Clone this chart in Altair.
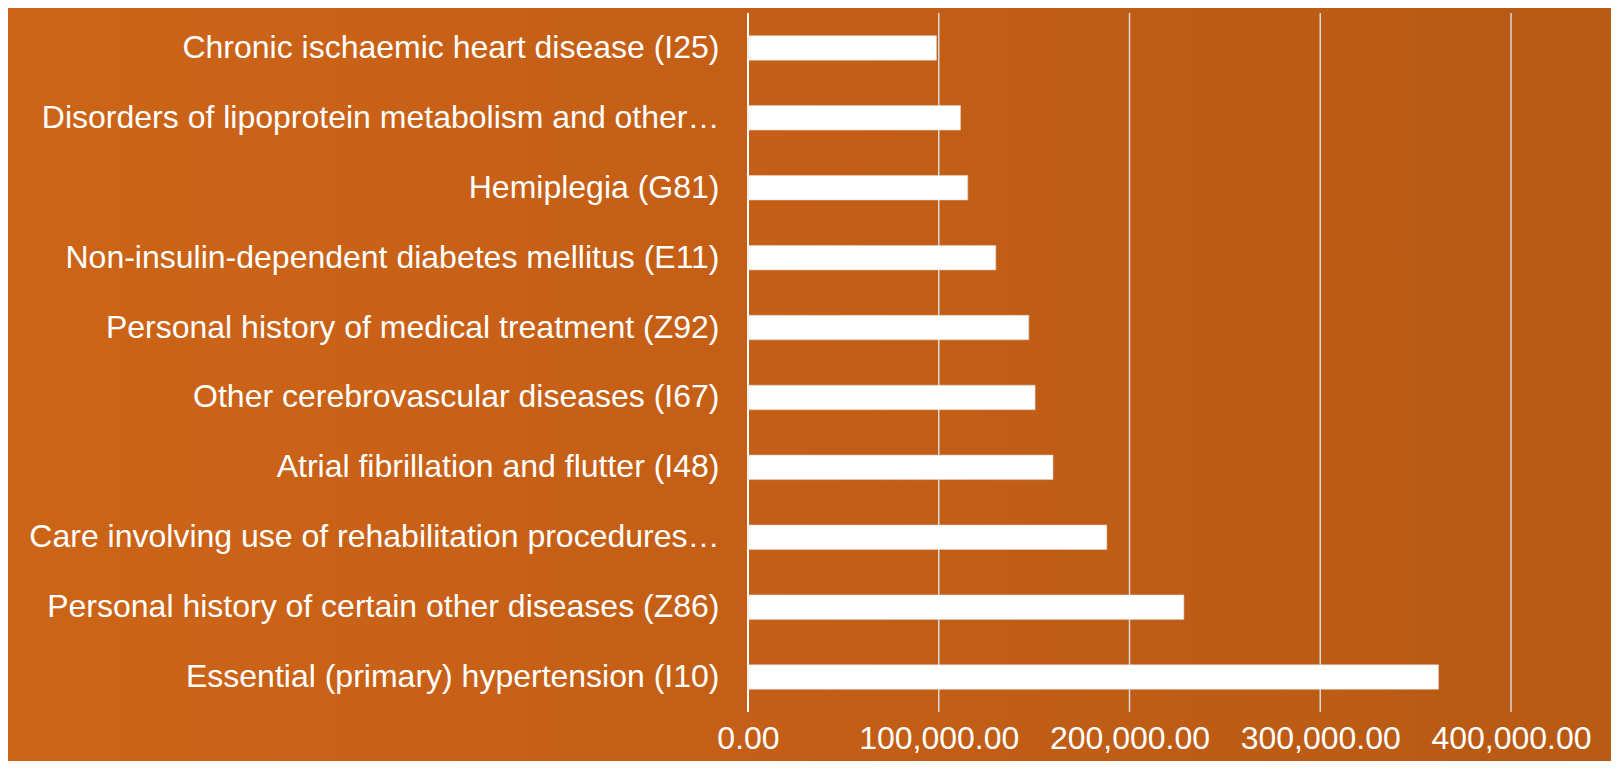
import altair as alt
import pandas as pd

categories = [
    "Chronic ischaemic heart disease (I25)",
    "Disorders of lipoprotein metabolism and other…",
    "Hemiplegia (G81)",
    "Non-insulin-dependent diabetes mellitus (E11)",
    "Personal history of medical treatment (Z92)",
    "Other cerebrovascular diseases (I67)",
    "Atrial fibrillation and flutter (I48)",
    "Care involving use of rehabilitation procedures…",
    "Personal history of certain other diseases (Z86)",
    "Essential (primary) hypertension (I10)",
]
values = [98800, 111400, 115200, 129900, 147200, 150500, 159900, 188100, 228500, 362000]
ticks = [0, 100000, 200000, 300000, 400000]

W, H = 763, 699
FONT = "Liberation Sans"

bars_df = pd.DataFrame({"cat": categories, "val": values})
grid_df = pd.DataFrame({"v": ticks, "zero": [t == 0 for t in ticks]})
bg_df = pd.DataFrame({"a": [0]})

xscale = alt.Scale(domain=[0, 400000], nice=False, zero=True)
xaxis = alt.Axis(values=ticks, format=",.2f", grid=False, domain=False,
                 ticks=False, labelColor="white", labelFont=FONT,
                 labelFontSize=32, labelPadding=11, title=None,
                 zindex=1, labelFlush=False, labelOverlap=False)

bg = alt.Chart(bg_df).mark_rect(
    fill={
        "gradient": "linear",
        "x1": 0, "y1": 0, "x2": 1, "y2": 0,
        "stops": [
            {"offset": 0, "color": "#cd6518"},
            {"offset": 0.5, "color": "#c45e16"},
            {"offset": 1, "color": "#b75a14"},
        ],
    },
    strokeWidth=0,
).encode(
    x=alt.value(-760), x2=alt.value(W + 120),
    y=alt.value(-20), y2=alt.value(H + 80),
)

grid = alt.Chart(grid_df).mark_rule().encode(
    x=alt.X("v:Q", scale=xscale, axis=xaxis),
    y=alt.value(0), y2=alt.value(H),
    color=alt.condition("datum.zero", alt.value("#ffffff"), alt.value("#d9d9d9")),
    strokeWidth=alt.condition("datum.zero", alt.value(2), alt.value(1.5)),
)

bars = alt.Chart(bars_df).mark_bar(color="white", stroke="#e0d0c8", strokeWidth=0.6).encode(
    x=alt.X("val:Q", scale=xscale, axis=xaxis),
    y=alt.Y("cat:N", sort=categories,
            scale=alt.Scale(paddingInner=0.65, paddingOuter=0.325),
            axis=alt.Axis(title=None, domain=False, ticks=False, grid=False,
                          labelColor="white", labelFont=FONT, labelFontSize=32,
                          labelPadding=29, labelLimit=900, zindex=1)),
)

chart = alt.layer(bg, grid, bars).properties(
    width=W, height=H,
    autosize=alt.AutoSizeParams(type="none"),
    padding={"left": 740, "top": 5, "right": 100, "bottom": 49},
    background="#c45e16",
).configure_view(stroke=None)

chart.save("out.html", embed_options={"renderer": "svg", "actions": False})
